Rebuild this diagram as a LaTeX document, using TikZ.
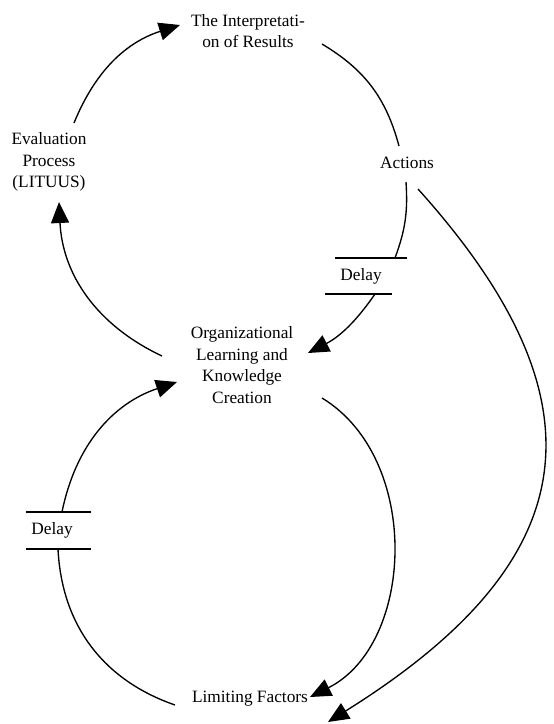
\documentclass[tikz,border=0pt]{standalone}
\usepackage{fontspec}
\setmainfont{Liberation Serif}
\usetikzlibrary{arrows.meta,positioning}
\tikzset{
    txt/.style={align=center, inner sep=0pt, font=\fontsize{17.3}{21.6}\selectfont},
    link/.style={draw, line width=1.35pt},
    arr/.style={link, -{Triangle[length=21pt,width=18pt]}},
    bar/.style={line width=1.6pt},
}

\begin{document}
\begin{tikzpicture}[x=1pt,y=1pt]
    \useasboundingbox (0,0) rectangle (554,-724);

    \node[txt] (interp) at (248,-31) {The Interpretati-\\on of Results};
    \node[txt] (eval) at (49,-162) {Evaluation\\Process\\(LITUUS)};
    \node[txt] (act) at (407,-163) {Actions};
    \node[txt] (dl1) at (361,-276) {Delay};
    \node[txt] (org) at (242,-365) {Organizational\\Learning and\\Knowledge\\Creation};
    \node[txt] (dl2) at (52,-530.5) {Delay};
    \node[txt] (limit) at (250,-699) {Limiting Factors};

    % delay bars
    \draw[bar] ([shift={(-26,18)}]dl1.center) -- ([shift={(46,18)}]dl1.center);
    \draw[bar] ([shift={(-36,-18)}]dl1.center) -- ([shift={(31,-18)}]dl1.center);
    \draw[bar] ([shift={(-26,18.5)}]dl2.center) -- ([shift={(39,18.5)}]dl2.center);
    \draw[bar] ([shift={(-26,-18.5)}]dl2.center) -- ([shift={(39,-18.5)}]dl2.center);

    % upper loop
    \draw[arr] ([shift={(25,39)}]eval.center) to[bend left=25] ([shift={(-68,6)}]interp.center);
    \draw[link] ([shift={(74,-13)}]interp.center) to[bend left=22] ([shift={(-8,17)}]act.center);
    \draw[link] ([shift={(-1,-19)}]act.center) to[bend left=12] ([shift={(34,18)}]dl1.center);
    \draw[arr] ([shift={(14,-18)}]dl1.center) to[bend left=14] ([shift={(66,12)}]org.center);
    \draw[arr] ([shift={(-80,9)}]org.center) to[bend left=31] ([shift={(10,-40)}]eval.center);

    % lower loop
    \draw[arr] ([shift={(80,-33)}]org.center) to[bend left=61] ([shift={(60,2)}]limit.center);
    \draw[link] ([shift={(-75,-6)}]limit.center) to[bend left=34] ([shift={(6,-18.5)}]dl2.center);
    \draw[arr] ([shift={(10,18.5)}]dl2.center) to[bend left=30] ([shift={(-65,-17)}]org.center);

    \draw[arr] ([shift={(11,-26)}]act.center) to[out=-48,in=32,looseness=1.4] ([shift={(78,-23)}]limit.center);
\end{tikzpicture}
\end{document}
